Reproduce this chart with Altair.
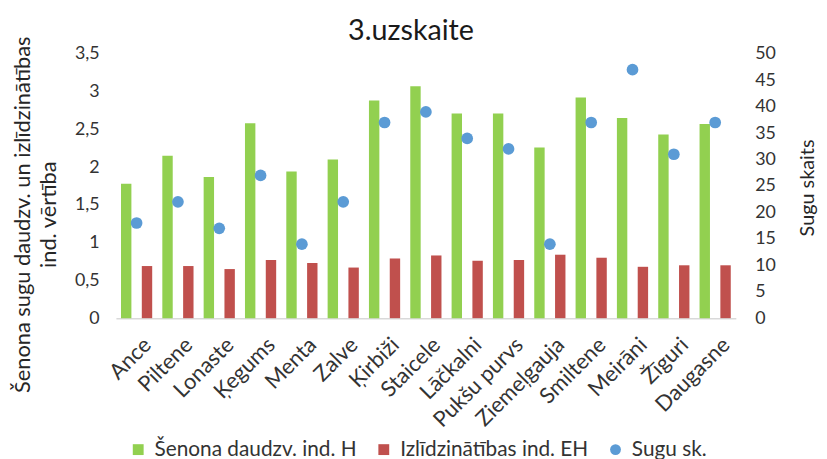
import altair as alt
import pandas as pd

cats = ["Ance", "Piltene", "Lonaste", "Ķegums", "Menta", "Zalve", "Ķirbiži", "Staicele",
        "Lāčkalni", "Pukšu purvs", "Ziemeļgauja", "Smiltene", "Meirāni", "Žīguri", "Daugasne"]
shannon = [1.78, 2.15, 1.87, 2.58, 1.94, 2.10, 2.88, 3.07, 2.71, 2.71, 2.26, 2.92, 2.65, 2.43, 2.57]
evenness = [0.69, 0.69, 0.65, 0.77, 0.73, 0.67, 0.79, 0.83, 0.76, 0.77, 0.84, 0.80, 0.68, 0.70, 0.70]
species = [18, 22, 17, 27, 14, 22, 37, 39, 34, 32, 14, 37, 47, 31, 37]

TITLE = "3.uzskaite"
S_H = "Šenona daudzv. ind. H"
S_EH = "Izlīdzinātības ind. EH"
S_SP = "Sugu sk."
series_names = [S_H, S_EH, S_SP]
series_colors = ["#92D050", "#C0504D", "#5B9BD5"]
series_shapes = ["square", "square", "circle"]
left_ticks = [0, 0.5, 1, 1.5, 2, 2.5, 3, 3.5]
right_ticks = [0, 5, 10, 15, 20, 25, 30, 35, 40, 45, 50]

bars = pd.DataFrame({
    "cat": cats * 2,
    "series": [S_H] * len(cats) + [S_EH] * len(cats),
    "value": shannon + evenness,
})
pts = pd.DataFrame({"cat": cats, "series": [S_SP] * len(cats), "value": species})
title_df = pd.DataFrame({"t": [TITLE]})

FONT = "Lato"
LBL = "#333333"
TTL = "#262626"

color_scale = alt.Scale(domain=series_names, range=series_colors)
shape_scale = alt.Scale(domain=series_names, range=series_shapes)

legend_opts = dict(
    title=None, orient="none", legendX=12, legendY=389, direction="horizontal",
    labelFont=FONT, labelFontSize=21, labelColor=LBL, symbolSize=120,
    symbolStrokeWidth=0, columnPadding=16, padding=0, labelOffset=6, labelLimit=400,
)

x_enc = alt.X(
    "cat:N", sort=cats,
    scale=alt.Scale(paddingInner=0.245, paddingOuter=0.1225),
    axis=alt.Axis(
        title=None, labelAngle=-45, labelFont=FONT, labelFontSize=22, labelColor=LBL,
        ticks=False, domainColor="#D9D9D9", domainWidth=1.5, labelPadding=16,
        labelOffset=4, labelAlign="right", labelBaseline="top", labelOverlap=False,
    ),
)

bar_layer = alt.Chart(bars).mark_bar().encode(
    x=x_enc,
    xOffset=alt.XOffset("series:N", scale=alt.Scale(domain=[S_H, "gap", S_EH],
                                                   paddingInner=0, paddingOuter=0)),
    y=alt.Y(
        "value:Q",
        scale=alt.Scale(domain=[0, 3.5], nice=False),
        axis=alt.Axis(
            orient="left", values=left_ticks, grid=False, ticks=False, domain=False,
            labelExpr="replace(toString(datum.value), '.', ',')",
            labelFont=FONT, labelFontSize=18, labelColor=LBL, labelPadding=17,
            title=["Šenona sugu daudzv. un izlīdzinātības", "ind. vērtība"],
            titleFont=FONT, titleFontSize=22, titleFontWeight="normal", titleColor=TTL,
            titleAngle=-90, titleX=-94, titleY=162, titleAlign="center",
            titleBaseline="middle", titleLineHeight=26,
        ),
    ),
    color=alt.Color("series:N", scale=color_scale, legend=alt.Legend(**legend_opts)),
)

pt_layer = alt.Chart(pts).mark_point(filled=True, size=140, opacity=1).encode(
    x=alt.X("cat:N", sort=cats),
    y=alt.Y(
        "value:Q",
        scale=alt.Scale(domain=[0, 50], nice=False),
        axis=alt.Axis(
            orient="right", values=right_ticks, grid=False, ticks=False, domain=False,
            labelFont=FONT, labelFontSize=18, labelColor=LBL, labelPadding=19,
            title="Sugu skaits", titleFont=FONT, titleFontSize=20, titleFontWeight="normal",
            titleColor=TTL, titleAngle=-90, titleX=72, titleY=135, titleAlign="center",
            titleBaseline="middle",
        ),
    ),
    color=alt.Color("series:N", scale=color_scale, legend=alt.Legend(**legend_opts)),
    shape=alt.Shape("series:N", scale=shape_scale, legend=alt.Legend(**legend_opts)),
)

title_layer = alt.Chart(title_df).mark_text(
    font=FONT, fontSize=29, color="#1a1a1a", align="center", baseline="middle"
).encode(text="t:N", x=alt.value(298), y=alt.value(-23))

chart = alt.layer(bar_layer, pt_layer, title_layer).resolve_scale(y="independent").properties(
    width=626, height=267,
    autosize=alt.AutoSizeParams(type="none"),
    padding={"left": 109, "top": 44, "right": 84, "bottom": 140},
).configure_view(stroke=None)

chart.save("out.html", embed_options={"renderer": "svg", "actions": False})
